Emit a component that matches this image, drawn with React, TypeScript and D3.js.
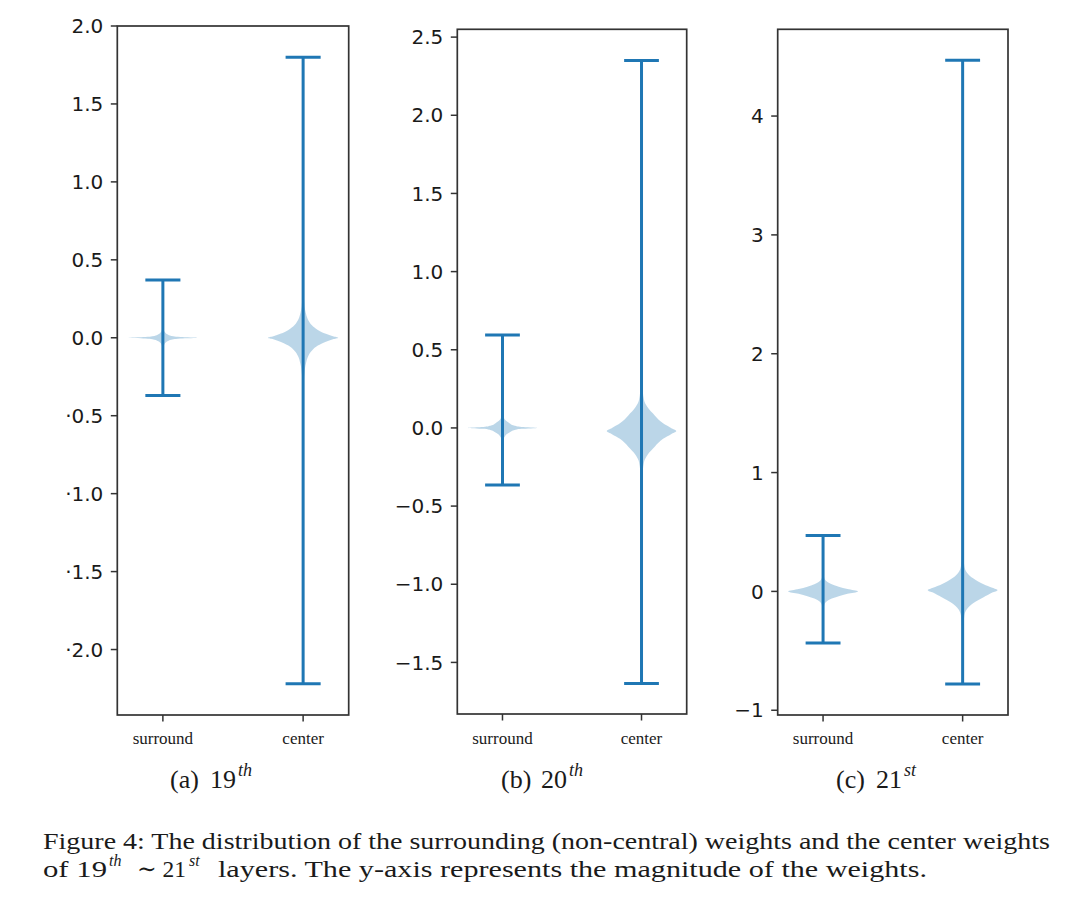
import React from "react";
import * as d3 from "d3";

// ---------- data ----------
const categories = ["surround", "center"];
const panelLetters = ["a", "b", "c"];
const layerNumbers = ["19", "20", "21"];
const layerSuffixes = ["th", "th", "st"];

// y-axis domains (matplotlib auto-limits)
const yDomainA = [-2.42, 2.0];
const yDomainB = [-1.83, 2.55];
const yDomainC = [-1.04, 4.73];

const yTicksA = [-2.0, -1.5, -1.0, -0.5, 0.0, 0.5, 1.0, 1.5, 2.0];
const yTickLabelsA = ["·2.0", "·1.5", "·1.0", "·0.5", "0.0", "0.5", "1.0", "1.5", "2.0"];
const yTicksB = [-1.5, -1.0, -0.5, 0.0, 0.5, 1.0, 1.5, 2.0, 2.5];
const yTickLabelsB = ["−1.5", "−1.0", "−0.5", "0.0", "0.5", "1.0", "1.5", "2.0", "2.5"];
const yTicksC = [-1, 0, 1, 2, 3, 4];
const yTickLabelsC = ["−1", "0", "1", "2", "3", "4"];

// extrema [min, max] for surround / center
const extremaA = [[-0.37, 0.37], [-2.22, 1.8]];
const extremaB = [[-0.365, 0.595], [-1.635, 2.35]];
const extremaC = [[-0.435, 0.47], [-0.78, 4.47]];

// violin profiles: [value, relative density]
const surroundProfileA = [
  [-0.37, 0.003], [-0.15, 0.006], [-0.1, 0.009], [-0.06, 0.02], [-0.035, 0.06], [-0.02, 0.15],
  [-0.01, 0.3], [-0.005, 0.5], [0, 1], [0.005, 0.5], [0.01, 0.3], [0.02, 0.15],
  [0.035, 0.06], [0.06, 0.02], [0.1, 0.009], [0.15, 0.006], [0.37, 0.003],
];
const centerProfileA = [
  [-2.22, 0.001], [-1.0, 0.003], [-0.5, 0.008], [-0.3, 0.02], [-0.2, 0.05], [-0.16, 0.085],
  [-0.12, 0.14], [-0.08, 0.26], [-0.05, 0.42], [-0.025, 0.65], [-0.01, 0.85], [0, 1],
  [0.01, 0.85], [0.025, 0.65], [0.05, 0.42], [0.08, 0.25], [0.12, 0.13], [0.16, 0.075],
  [0.2, 0.04], [0.3, 0.018], [0.5, 0.007], [1.0, 0.003], [1.8, 0.001],
];
const surroundProfileB = [
  [-0.365, 0.003], [-0.15, 0.008], [-0.08, 0.025], [-0.05, 0.08], [-0.03, 0.2], [-0.015, 0.33],
  [-0.006, 0.55], [0, 1], [0.006, 0.55], [0.015, 0.33], [0.03, 0.2], [0.05, 0.08],
  [0.08, 0.025], [0.15, 0.008], [0.595, 0.003],
];
const centerProfileB = [
  [-1.635, 0.002], [-1.0, 0.004], [-0.52, 0.01], [-0.32, 0.025], [-0.22, 0.07], [-0.17, 0.18],
  [-0.12, 0.38], [-0.07, 0.62], [-0.04, 0.85], [-0.02, 1], [0.0, 0.85], [0.03, 0.62],
  [0.08, 0.38], [0.13, 0.18], [0.18, 0.07], [0.28, 0.025], [0.48, 0.01], [1.0, 0.004], [2.35, 0.002],
];
const surroundProfileC = [
  [-0.435, 0.003], [-0.2, 0.01], [-0.12, 0.03], [-0.085, 0.1], [-0.06, 0.25], [-0.04, 0.45],
  [-0.02, 0.7], [0, 1], [0.02, 0.7], [0.04, 0.45], [0.06, 0.25], [0.085, 0.1],
  [0.12, 0.03], [0.2, 0.01], [0.47, 0.003],
];
const centerProfileC = [
  [-0.78, 0.003], [-0.6, 0.008], [-0.3, 0.02], [-0.2, 0.05], [-0.15, 0.12], [-0.1, 0.3],
  [-0.05, 0.6], [-0.01, 0.85], [0.01, 1], [0.03, 0.85], [0.06, 0.6], [0.11, 0.3],
  [0.16, 0.12], [0.21, 0.05], [0.31, 0.02], [0.6, 0.008], [1.5, 0.004], [4.47, 0.002],
];

const captionLine1 = "Figure 4: The distribution of the surrounding (non-central) weights and the center weights";
const captionLine2Parts = ["of 19", "th", "∼ 21", "st", "layers. The y-axis represents the magnitude of the weights."];

// ---------- layout ----------
const panelBoxes = [
  { left: 117.3, right: 348.7, top: 26, bottom: 715 },
  { left: 457.3, right: 686.7, top: 29.3, bottom: 714 },
  { left: 777.7, right: 1008, top: 29.3, bottom: 715 },
];
const subLabelX = [170, 501, 836];

const panels = [
  { domain: yDomainA, ticks: yTicksA, labels: yTickLabelsA, extrema: extremaA, profiles: [surroundProfileA, centerProfileA] },
  { domain: yDomainB, ticks: yTicksB, labels: yTickLabelsB, extrema: extremaB, profiles: [surroundProfileB, centerProfileB] },
  { domain: yDomainC, ticks: yTicksC, labels: yTickLabelsC, extrema: extremaC, profiles: [surroundProfileC, centerProfileC] },
];

const BLUE = "#1f77b4";
const SPINE = "#333";
const TICKFONT = "'DejaVu Sans', sans-serif";
const SERIF = "'Liberation Serif', 'DejaVu Serif', serif";
const TEXTC = "#1a1a1a";
const CAPFS = 23.5;

function Panel({ idx }: { idx: number }) {
  const p = panels[idx];
  const box = panelBoxes[idx];
  const x = d3.scaleLinear().domain([0.675, 2.325]).range([box.left, box.right]);
  const y = d3.scaleLinear().domain(p.domain).range([box.bottom, box.top]);
  const halfW = 0.25;
  const capW = 0.125;
  const sx = subLabelX[idx];

  return (
    <g>
      {p.profiles.map((prof, i) => {
        const pos = i + 1;
        const area = d3
          .area<number[]>()
          .y((d) => y(d[0]))
          .x0((d) => x(pos - halfW * d[1]))
          .x1((d) => x(pos + halfW * d[1]))
          .curve(d3.curveMonotoneY);
        return <path key={"v" + i} d={area(prof) || ""} fill={BLUE} fillOpacity={0.3} stroke="none" />;
      })}
      {p.extrema.map((ex, i) => {
        const pos = i + 1;
        return (
          <g key={"e" + i} stroke={BLUE} strokeWidth={3}>
            <line x1={x(pos)} x2={x(pos)} y1={y(ex[0])} y2={y(ex[1])} />
            <line x1={x(pos - capW)} x2={x(pos + capW)} y1={y(ex[0])} y2={y(ex[0])} />
            <line x1={x(pos - capW)} x2={x(pos + capW)} y1={y(ex[1])} y2={y(ex[1])} />
          </g>
        );
      })}
      <rect x={box.left} y={box.top} width={box.right - box.left} height={box.bottom - box.top}
        fill="none" stroke={SPINE} strokeWidth={1.7} />
      {p.ticks.map((t, i) => (
        <g key={"yt" + i}>
          <line x1={box.left - 6.5} x2={box.left} y1={y(t)} y2={y(t)} stroke={SPINE} strokeWidth={1.5} />
          <text x={box.left - 14} y={y(t)} dy="0.36em" textAnchor="end" fontFamily={TICKFONT}
            fontSize={20} fill={TEXTC}>{p.labels[i]}</text>
        </g>
      ))}
      {categories.map((c, i) => (
        <g key={"xt" + i}>
          <line x1={x(i + 1)} x2={x(i + 1)} y1={box.bottom} y2={box.bottom + 6.5} stroke={SPINE} strokeWidth={1.5} />
          <text x={x(i + 1)} y={744} textAnchor="middle" fontFamily={SERIF} fontSize={17} fill={TEXTC}>{c}</text>
        </g>
      ))}
      <text x={sx} y={788} fontFamily={SERIF} fontSize={26} fill={TEXTC}>({panelLetters[idx]})</text>
      <text x={sx + 40} y={788} fontFamily={SERIF} fontSize={26} fill={TEXTC}>{layerNumbers[idx]}</text>
      <text x={sx + 68} y={776} fontFamily={SERIF} fontSize={18} fontStyle="italic" fill={TEXTC}>{layerSuffixes[idx]}</text>
    </g>
  );
}

export default function App() {
  return (
    <svg width={1080} height={919} style={{ position: "absolute", left: 0, top: 0, background: "#fff" }}>
      <rect x={0} y={0} width={1080} height={919} fill="#fff" />
      {[0, 1, 2].map((i) => (
        <Panel key={i} idx={i} />
      ))}
      <text x={43} y={849} fontFamily={SERIF} fontSize={CAPFS} fill={TEXTC} textLength={1007} lengthAdjust="spacingAndGlyphs">
        {captionLine1}
      </text>
      <text x={43} y={877} fontFamily={SERIF} fontSize={CAPFS} fill={TEXTC} textLength={64} lengthAdjust="spacingAndGlyphs">
        {captionLine2Parts[0]}
      </text>
      <text x={109} y={866} fontFamily={SERIF} fontSize={16} fontStyle="italic" fill={TEXTC}>
        {captionLine2Parts[1]}
      </text>
      <text x={137} y={877} fontFamily={SERIF} fontSize={CAPFS} fill={TEXTC} textLength={49} lengthAdjust="spacingAndGlyphs">
        {captionLine2Parts[2]}
      </text>
      <text x={189} y={866} fontFamily={SERIF} fontSize={16} fontStyle="italic" fill={TEXTC}>
        {captionLine2Parts[3]}
      </text>
      <text x={218} y={877} fontFamily={SERIF} fontSize={CAPFS} fill={TEXTC} textLength={709} lengthAdjust="spacingAndGlyphs">
        {captionLine2Parts[4]}
      </text>
    </svg>
  );
}
